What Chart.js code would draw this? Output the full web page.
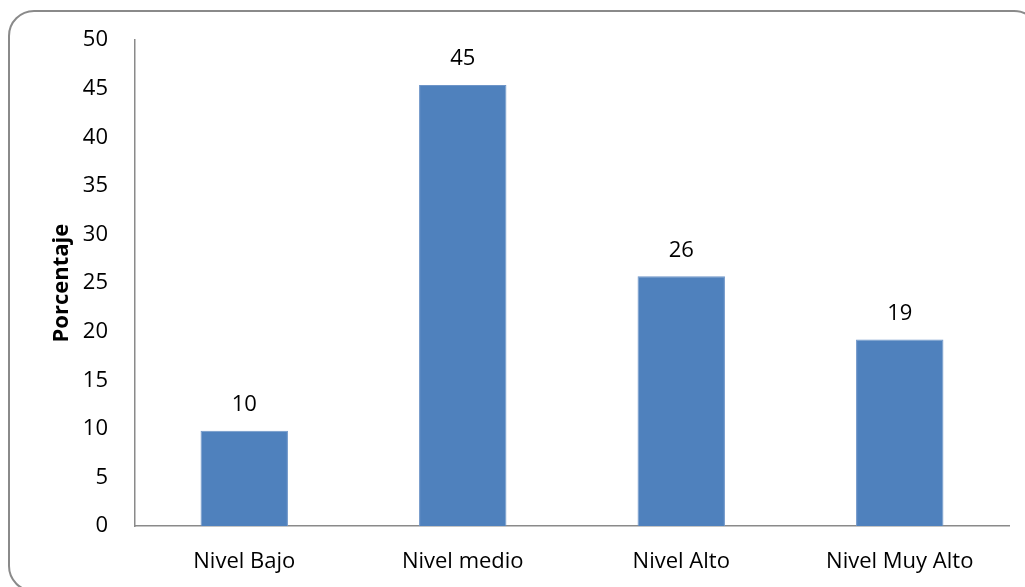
<!DOCTYPE html>
<html>
<head>
<meta charset="utf-8">
<script src="https://cdn.jsdelivr.net/npm/chart.js@4/dist/chart.umd.min.js"></script>
<style>
    html, body { margin: 0; padding: 0; background: #FFFFFF; }
    #wrap { position: relative; width: 1025px; height: 587px; overflow: hidden; }
    #frame {
        position: absolute; left: 8px; top: 10px;
        width: 1032px; height: 582px;
        border: 2px solid #8A8A8A; border-radius: 26px;
        box-sizing: border-box;
    }
    #chart { position: absolute; left: 0; top: 0; }
</style>
</head>
<body>
<div id="wrap">
    <div id="frame"></div>
    <canvas id="chart" width="1025" height="587"></canvas>
</div>
<script>
    /* data */
    const categories = ["Nivel Bajo", "Nivel medio", "Nivel Alto", "Nivel Muy Alto"];
    const percentages = [9.8, 45.4, 25.7, 19.2];
    const yTicks = [0, 5, 10, 15, 20, 25, 30, 35, 40, 45, 50];

    const COLORS = {
        bar: "#4F81BD",
        barEdge: "#6E95C8",
        axis: "#8A8A8A",
        text: "#000000"
    };

    const FONT = "'Open Sans', sans-serif";
    const SIZE = 22;

    // value labels above each bar
    const barLabels = {
        id: "barLabels",
        afterDatasetsDraw(chart) {
            const ctx = chart.ctx;
            const meta = chart.getDatasetMeta(0);
            ctx.save();
            ctx.font = SIZE + "px " + FONT;
            ctx.fillStyle = COLORS.text;
            ctx.textAlign = "center";
            ctx.textBaseline = "middle";
            meta.data.forEach((bar, i) => {
                ctx.fillText(String(Math.round(percentages[i])), bar.x, bar.y - 26);
            });
            ctx.restore();
        }
    };

    new Chart(document.getElementById("chart").getContext("2d"), {
        type: "bar",
        data: {
            labels: categories,
            datasets: [{
                data: percentages,
                backgroundColor: COLORS.bar,
                borderColor: COLORS.barEdge,
                borderWidth: 1,
                categoryPercentage: 1,
                barPercentage: 0.40
            }]
        },
        options: {
            responsive: false,
            animation: false,
            devicePixelRatio: 1,
            layout: { padding: { left: 49, right: 16, top: 40, bottom: 0 } },
            plugins: {
                legend: { display: false },
                tooltip: { enabled: false }
            },
            scales: {
                x: {
                    grid: { display: false, drawTicks: false },
                    border: { color: COLORS.axis, width: 1.5 },
                    ticks: { color: COLORS.text, font: { family: FONT, size: SIZE }, padding: 23, maxRotation: 0 },
                    afterFit: (s) => { s.height = 61; }
                },
                y: {
                    min: 0,
                    max: 50,
                    afterBuildTicks: (s) => { s.ticks = yTicks.map(v => ({ value: v })); },
                    grid: { display: false, drawTicks: false },
                    border: { color: COLORS.axis, width: 1.5 },
                    ticks: { color: COLORS.text, font: { family: FONT, size: SIZE }, padding: 27 },
                    title: {
                        display: true,
                        text: "Porcentaje",
                        color: COLORS.text,
                        font: { family: FONT, size: SIZE, weight: "bold" },
                        padding: 0
                    },
                    afterFit: (s) => { s.width = 86; }
                }
            }
        },
        plugins: [barLabels]
    });
</script>
</body>
</html>
